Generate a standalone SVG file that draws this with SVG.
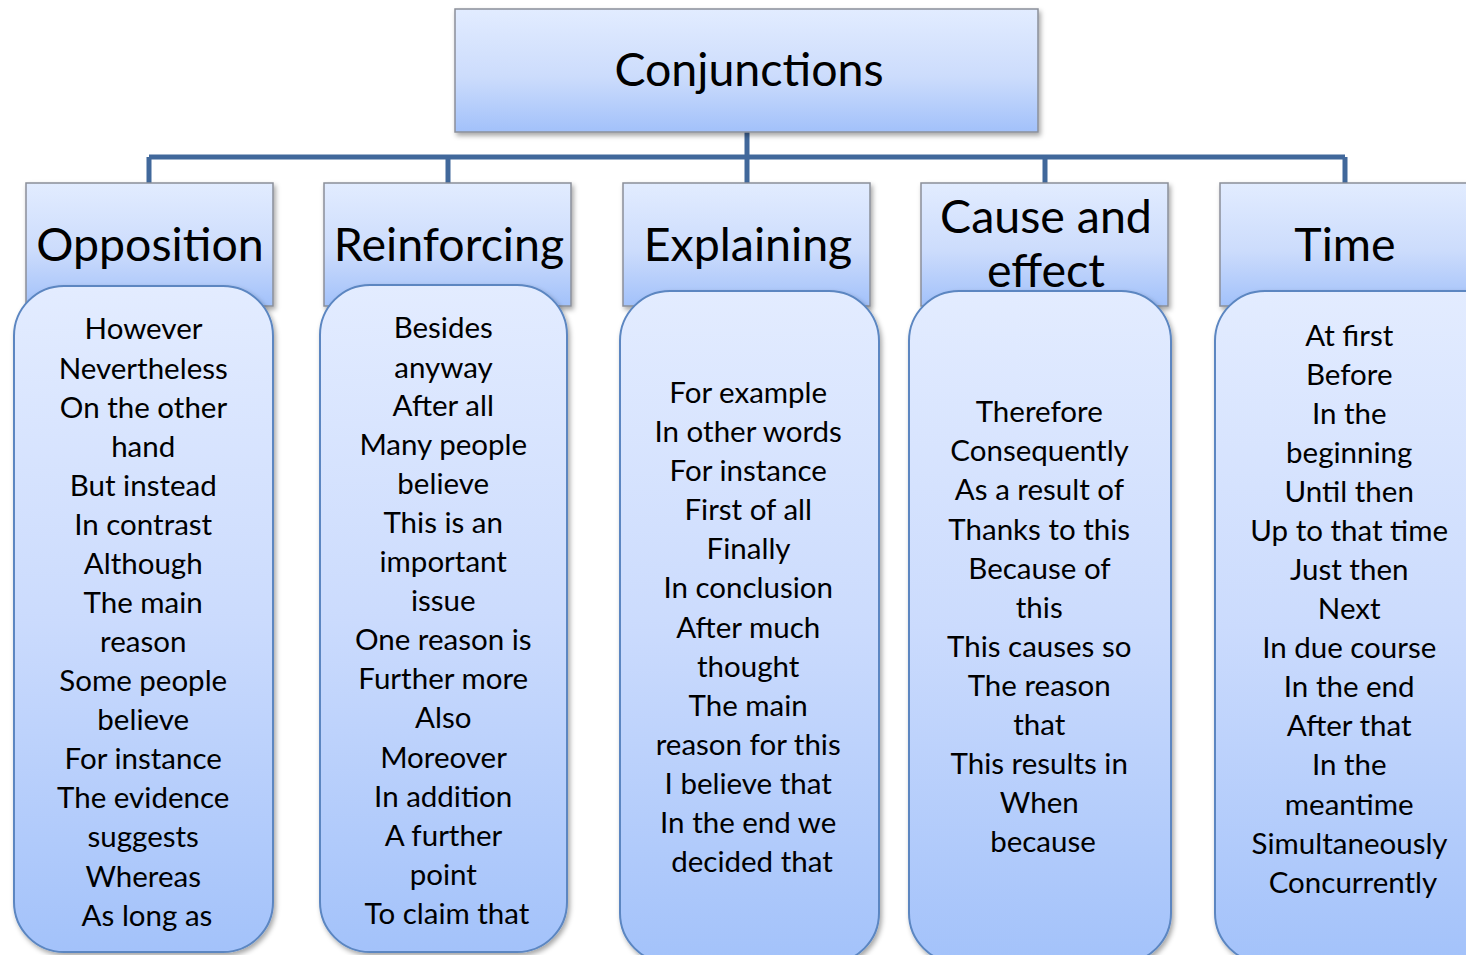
<svg xmlns="http://www.w3.org/2000/svg" width="1466" height="955" viewBox="0 0 1466 955">
<defs>
<linearGradient id="gHead" x1="0" y1="0" x2="0" y2="1">
<stop offset="0" stop-color="#e2ecff"/>
<stop offset="0.55" stop-color="#ccdcfc"/>
<stop offset="1" stop-color="#a2c1fa"/>
</linearGradient>
<linearGradient id="gBody" x1="0" y1="0" x2="0" y2="1">
<stop offset="0" stop-color="#e3ecff"/>
<stop offset="0.5" stop-color="#cbdbfd"/>
<stop offset="1" stop-color="#a3c2fa"/>
</linearGradient>
<filter id="sh" x="-10%" y="-10%" width="125%" height="125%">
<feDropShadow dx="2" dy="3" stdDeviation="2.5" flood-color="#000" flood-opacity="0.35"/>
</filter>
</defs>
<style>
.hd{fill:url(#gHead);stroke:#8a8f99;stroke-width:1.5;filter:url(#sh)}
.bd{fill:url(#gBody);stroke:#5b86c1;stroke-width:2;filter:url(#sh)}
.ht{font-family:Lato,"Open Sans",sans-serif;font-size:46.5px;fill:#000;text-anchor:middle}
.bt{font-family:Lato,"Open Sans",sans-serif;font-size:29.5px;fill:#000;text-anchor:middle}
.cn{fill:none;stroke:#41689b;stroke-width:5}
</style>
<rect width="1466" height="955" fill="#fff"/>
<g id="connectors">
<path class="cn" d="M747 132V157M149 157H1345M149 157V183M448 157V183M747 157V183M1045 157V183M1345 157V183"/>
</g>
<g id="root">
<rect class="hd" x="455" y="9" width="583" height="123"/>
<text class="ht" x="749" y="86" font-size="47.5">Conjunctions</text>
</g>
<g id="opposition">
<rect class="hd" x="26" y="183" width="247" height="123"/>
<text class="ht" x="150" y="261">Opposition</text>
<rect class="bd" x="14" y="286" width="259" height="666" rx="50"/>
<text class="bt">
<tspan x="147" y="339">However</tspan>
<tspan x="147" y="379">Nevertheless</tspan>
<tspan x="147" y="418">On the other</tspan>
<tspan x="147" y="457">hand</tspan>
<tspan x="147" y="496">But instead</tspan>
<tspan x="147" y="535">In contrast</tspan>
<tspan x="147" y="574">Although</tspan>
<tspan x="147" y="613">The main</tspan>
<tspan x="147" y="652">reason</tspan>
<tspan x="147" y="691">Some people</tspan>
<tspan x="147" y="730">believe</tspan>
<tspan x="147" y="769">For instance</tspan>
<tspan x="147" y="808">The evidence</tspan>
<tspan x="147" y="847">suggests</tspan>
<tspan x="147" y="887">Whereas</tspan>
<tspan x="147" y="926">As long as</tspan>
</text>
</g>
<g id="reinforcing">
<rect class="hd" x="324" y="183" width="247" height="123"/>
<text class="ht" x="449" y="261">Reinforcing</text>
<rect class="bd" x="320" y="285" width="247" height="667" rx="50"/>
<text class="bt">
<tspan x="447" y="338">Besides</tspan>
<tspan x="447" y="378">anyway</tspan>
<tspan x="447" y="416">After all</tspan>
<tspan x="447" y="455">Many people</tspan>
<tspan x="447" y="494">believe</tspan>
<tspan x="447" y="533">This is an</tspan>
<tspan x="447" y="572">important</tspan>
<tspan x="447" y="611">issue</tspan>
<tspan x="447" y="650">One reason is</tspan>
<tspan x="447" y="689">Further more</tspan>
<tspan x="447" y="728">Also</tspan>
<tspan x="447" y="768">Moreover</tspan>
<tspan x="447" y="807">In addition</tspan>
<tspan x="447" y="846">A further</tspan>
<tspan x="447" y="885">point</tspan>
<tspan x="447" y="924">To claim that</tspan>
</text>
</g>
<g id="explaining">
<rect class="hd" x="623" y="183" width="247" height="123"/>
<text class="ht" x="748" y="261">Explaining</text>
<rect class="bd" x="620" y="291" width="259" height="672" rx="50"/>
<text class="bt">
<tspan x="752" y="403">For example</tspan>
<tspan x="752" y="442">In other words</tspan>
<tspan x="752" y="481">For instance</tspan>
<tspan x="752" y="520">First of all</tspan>
<tspan x="752" y="559">Finally</tspan>
<tspan x="752" y="598">In conclusion</tspan>
<tspan x="752" y="638">After much</tspan>
<tspan x="752" y="677">thought</tspan>
<tspan x="752" y="716">The main</tspan>
<tspan x="752" y="755">reason for this</tspan>
<tspan x="752" y="794">I believe that</tspan>
<tspan x="752" y="833">In the end we</tspan>
<tspan x="752" y="872">decided that</tspan>
</text>
</g>
<g id="cause-and-effect">
<rect class="hd" x="921" y="183" width="247" height="123"/>
<text class="ht"><tspan x="1046" y="233">Cause and</tspan><tspan x="1046" y="287">effect</tspan></text>
<rect class="bd" x="909" y="291" width="262" height="672" rx="50"/>
<text class="bt">
<tspan x="1043" y="422">Therefore</tspan>
<tspan x="1043" y="461">Consequently</tspan>
<tspan x="1043" y="500">As a result of</tspan>
<tspan x="1043" y="540">Thanks to this</tspan>
<tspan x="1043" y="579">Because of</tspan>
<tspan x="1043" y="618">this</tspan>
<tspan x="1043" y="657">This causes so</tspan>
<tspan x="1043" y="696">The reason</tspan>
<tspan x="1043" y="735">that</tspan>
<tspan x="1043" y="774">This results in</tspan>
<tspan x="1043" y="813">When</tspan>
<tspan x="1043" y="852">because</tspan>
</text>
</g>
<g id="time">
<rect class="hd" x="1220" y="183" width="260" height="123"/>
<text class="ht" x="1345" y="261">Time</text>
<rect class="bd" x="1215" y="291" width="300" height="672" rx="50"/>
<text class="bt">
<tspan x="1353" y="346">At first</tspan>
<tspan x="1353" y="385">Before</tspan>
<tspan x="1353" y="424">In the</tspan>
<tspan x="1353" y="463">beginning</tspan>
<tspan x="1353" y="502">Until then</tspan>
<tspan x="1353" y="541">Up to that time</tspan>
<tspan x="1353" y="580">Just then</tspan>
<tspan x="1353" y="619">Next</tspan>
<tspan x="1353" y="658">In due course</tspan>
<tspan x="1353" y="697">In the end</tspan>
<tspan x="1353" y="736">After that</tspan>
<tspan x="1353" y="775">In the</tspan>
<tspan x="1353" y="815">meantime</tspan>
<tspan x="1353" y="854">Simultaneously</tspan>
<tspan x="1353" y="893">Concurrently</tspan>
</text>
</g>
</svg>
